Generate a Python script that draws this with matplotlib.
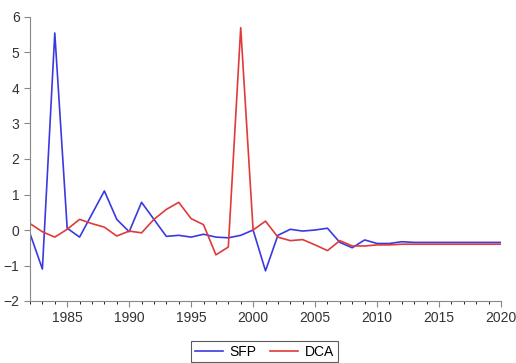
import numpy as np
import matplotlib.pyplot as plt
from matplotlib.ticker import MultipleLocator

years = np.arange(1982, 2021)

sfp = [-0.10, -1.10, 5.55, 0.05, -0.20, 0.45, 1.10, 0.30, -0.05, 0.78,
       0.30, -0.18, -0.15, -0.20, -0.12, -0.20, -0.22, -0.15, 0.00, -1.15,
       -0.15, 0.02, -0.03, 0.00, 0.05, -0.35, -0.50, -0.28, -0.38, -0.38,
       -0.33, -0.35, -0.35, -0.35, -0.35, -0.35, -0.35, -0.35, -0.35]

dca = [0.18, -0.05, -0.20, 0.02, 0.30, 0.18, 0.08, -0.17, -0.03, -0.08,
       0.30, 0.58, 0.78, 0.32, 0.15, -0.70, -0.48, 5.70, 0.00, 0.25,
       -0.20, -0.30, -0.27, -0.42, -0.58, -0.30, -0.45, -0.45, -0.42, -0.42,
       -0.40, -0.40, -0.40, -0.40, -0.40, -0.40, -0.40, -0.40, -0.40]

plt.rcParams['font.family'] = ['Liberation Sans', 'DejaVu Sans']

fig = plt.figure(figsize=(5.16, 3.63), dpi=100)
ax = fig.add_axes([30/516, 62/363, 471/516, 284/363])

ax.plot(years, sfp, color='#3a3ae0', lw=1.2, label='SFP')
ax.plot(years, dca, color='#e03a3a', lw=1.2, label='DCA')

ax.set_xlim(1982, 2020)
ax.set_ylim(-2, 6)
ax.xaxis.set_major_locator(MultipleLocator(5))
ax.xaxis.set_minor_locator(MultipleLocator(1))
ax.yaxis.set_major_locator(MultipleLocator(1))

for s in ['top', 'right']:
    ax.spines[s].set_visible(False)
for s in ['left', 'bottom']:
    ax.spines[s].set_color('#888888')
ax.tick_params(colors='#888888', labelcolor='#333333', labelsize=10)
ax.tick_params(which='major', length=4)
ax.tick_params(which='minor', length=2.5)

# legend box sits under the axis, partly below the figure edge
leg = ax.legend(loc='upper center', bbox_to_anchor=(0.498, -0.142), ncol=2,
                frameon=True, fancybox=False, edgecolor='#333333',
                fontsize=10, handlelength=2.0, handletextpad=0.5,
                borderpad=0.25, borderaxespad=0, columnspacing=1.0)
leg.get_frame().set_linewidth(0.8)

fig.savefig('out.png', dpi=100)
